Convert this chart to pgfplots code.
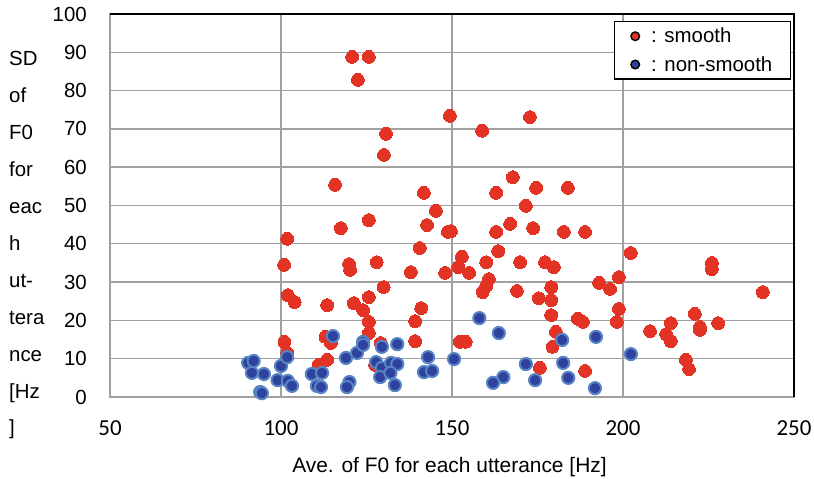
\documentclass[border=0pt]{standalone}
\usepackage{fontspec}
\setmainfont{Liberation Sans}
\newfontfamily\tickfont{Carlito}
\usepackage{pgfplots}
\pgfplotsset{compat=1.18}
\definecolor{smoothred}{RGB}{226,51,37}
\definecolor{nsblue}{RGB}{46,66,158}
\definecolor{nsedge}{RGB}{88,132,196}
\definecolor{gridgray}{RGB}{160,160,160}

\begin{document}
\begin{tikzpicture}
\begin{axis}[
  scale only axis, width=684bp, height=383bp,
  xmin=50, xmax=250, ymin=0, ymax=100,
  xtick={50,100,...,250}, ytick={0,10,...,100},
  major tick length=0pt,
  grid=major, grid style={gridgray, line width=1.4bp},
  axis line style={gridgray, line width=1.4bp},
  /pgf/number format/assume math mode=true,
  xticklabel style={font=\tickfont\fontsize{23}{27}\selectfont, inner sep=0pt, yshift=-23bp},
  yticklabel style={font=\fontsize{20.5}{24}\selectfont, inner sep=0pt, xshift=-23bp},
  xlabel={Ave. of F0 for each utterance [Hz]},
  every axis x label/.style={at={(axis description cs:0.4963,-0.1984)}, anchor=base,
    inner sep=0pt, font=\fontsize{21}{25}\selectfont},
  ylabel={SD\\of\\F0\\for\\eac\\h\\ut-\\tera\\nce\\{[Hz}\\]},
  every axis y label/.style={at={(axis description cs:-0.1477,-0.0992)}, anchor=base west,
    inner sep=0pt, align=left, font=\fontsize{20.5}{37.1}\selectfont},
  clip=false,
  legend style={at={(rel axis cs:0.9956,0.982)}, anchor=north east, draw=black,
    line width=1.4bp, font=\fontsize{20.5}{24}\selectfont,
    inner xsep=16bp, inner ysep=4.5bp, column sep=9bp, row sep=8bp, cells={anchor=west}},
  legend image code/.code={\fill[#1] (0pt,0pt) circle (4.3bp);},
]
% smooth
\addplot[only marks, draw=none, mark=*, mark size=6.4bp,
  mark options={fill=smoothred, draw=smoothred, line width=0pt}, forget plot]
coordinates {
(101.8,41.3) (100.9,34.5) (102.0,26.6) (104.0,24.8) (113.5,24.0) (101.0,14.4)
(101.8,11.5) (113.0,15.7) (113.5,9.7) (111.0,8.4)
(145.3,48.6) (117.5,44.1) (125.7,46.2) (142.7,44.9) (148.8,43.1) (149.7,43.3)
(140.6,38.9) (119.9,34.7) (120.2,33.2) (128.0,35.2) (138.0,32.6) (148.0,32.4)
(130.0,28.7) (125.7,26.1) (121.3,24.5) (124.0,22.7) (141.0,23.2) (125.7,19.6)
(139.2,19.8) (125.7,16.7) (114.6,14.1) (139.2,14.6) (129.2,14.1) (127.5,8.4)
(162.9,43.1) (167.0,45.2) (171.6,49.9) (173.7,44.1) (182.7,43.1) (152.9,36.6)
(151.8,33.9) (155.0,32.4) (160.0,35.2) (163.5,38.1) (169.9,35.2) (177.2,35.2)
(179.8,33.9) (160.8,30.8) (160.0,29.0) (159.0,27.4) (169.0,27.7) (179.0,28.7)
(175.4,25.8) (179.0,25.3) (179.0,21.4) (180.4,17.0) (179.4,13.1) (152.3,14.4)
(154.0,14.4) (175.7,7.6)
(120.8,88.8) (125.7,88.8) (122.5,82.8) (149.4,73.4) (172.8,73.1) (158.8,69.5)
(130.7,68.7) (130.1,63.2) (115.8,55.4) (167.8,57.4) (141.8,53.3) (162.9,53.3)
(174.6,54.6) (183.9,54.6)
(188.9,43.1) (202.3,37.6) (226.0,35.0) (226.0,33.4) (198.8,31.3) (193.0,29.8)
(196.2,28.2) (240.9,27.4) (198.8,23.0) (186.8,20.4) (188.3,19.6) (198.2,19.6)
(207.9,17.2) (214.0,19.3) (212.6,16.4) (214.0,14.6) (221.0,21.7) (222.5,18.3)
(222.5,17.5) (227.8,19.3) (218.4,9.7) (219.3,7.3) (188.9,6.8)
};
% non-smooth
\addplot[only marks, draw=none, mark=*, mark size=6.1bp,
  mark options={fill=nsblue, draw=nsedge, line width=2bp}, forget plot]
coordinates {
(90.4,8.9) (92.0,9.4) (91.5,6.3) (95.0,6.0) (93.9,1.3) (94.4,1.0)
(100.0,8.1) (101.8,10.4) (99.0,4.4) (102.0,4.2) (103.2,2.9) (109.0,6.0)
(112.0,6.3) (110.5,2.9) (115.2,15.9) (119.0,10.2) (122.2,11.5) (124.0,14.4)
(124.0,13.6) (129.5,13.1) (134.0,13.8) (127.8,9.1) (129.5,7.6) (132.2,8.9)
(134.0,8.6) (129.0,5.2) (132.0,6.3) (133.3,3.1) (143.0,10.4) (141.8,6.5)
(144.2,6.8) (150.6,9.9) (111.7,2.6) (120.0,3.9) (119.3,2.6) (158.0,20.6)
(163.7,16.7) (171.6,8.6) (165.0,5.2) (162.0,3.7) (174.3,4.4) (182.2,14.9)
(182.5,8.9) (184.0,5.0) (192.1,15.7) (202.3,11.2) (191.8,2.3)
};
\addlegendimage{fill=smoothred}
\addlegendentry{: smooth}
\addlegendimage{fill=nsblue}
\addlegendentry{: non-smooth}
\draw[black, line width=2.5bp, line join=miter] (rel axis cs:0,1) -- (rel axis cs:1,1) -- (rel axis cs:1,0);
\end{axis}
\path (-110bp,-82bp) rectangle (704bp,397bp);
\end{tikzpicture}
\end{document}
